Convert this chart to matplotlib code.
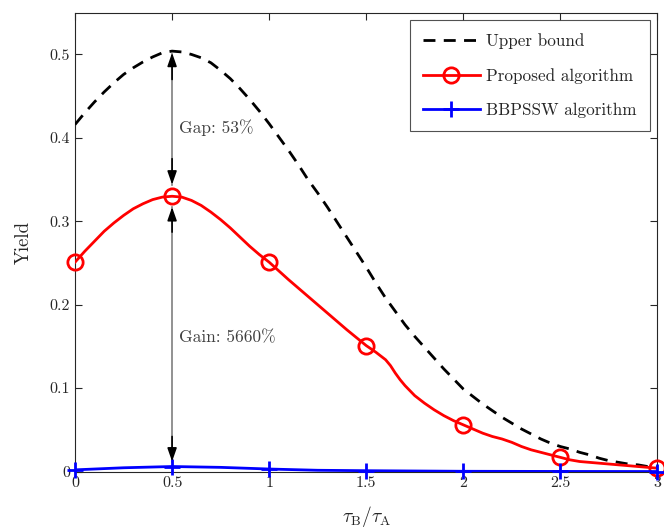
import numpy as np
import matplotlib
matplotlib.use("Agg")
import matplotlib.pyplot as plt

# ---- data ----
x_ub = [0.0, 0.05, 0.1, 0.15, 0.2, 0.25, 0.3, 0.35, 0.4, 0.45, 0.5, 0.55, 0.6, 0.65, 0.7,
        0.75, 0.8, 0.85, 0.9, 0.95, 1.0, 1.05, 1.1, 1.15, 1.2, 1.25, 1.3, 1.35, 1.4, 1.45,
        1.5, 1.55, 1.6, 1.65, 1.7, 1.75, 1.8, 1.85, 1.9, 1.95, 2.0, 2.05, 2.1, 2.15, 2.2,
        2.25, 2.3, 2.35, 2.4, 2.45, 2.5, 2.55, 2.6, 2.65, 2.7, 2.75, 2.8, 2.85, 2.9, 2.95,
        3.0]
y_ub = [0.416, 0.430, 0.443, 0.455, 0.466, 0.476, 0.484, 0.491, 0.497, 0.502, 0.504,
        0.503, 0.500, 0.496, 0.490, 0.481, 0.471, 0.459, 0.446, 0.432, 0.417, 0.401,
        0.385, 0.368, 0.350, 0.334, 0.317, 0.299, 0.281, 0.263, 0.245, 0.226, 0.208,
        0.192, 0.176, 0.162, 0.149, 0.136, 0.123, 0.111, 0.099, 0.090, 0.081, 0.073,
        0.065, 0.058, 0.051, 0.045, 0.039, 0.034, 0.030, 0.027, 0.023, 0.020, 0.016,
        0.013, 0.011, 0.009, 0.008, 0.006, 0.005]

x_prop = [0.0, 0.05, 0.1, 0.15, 0.2, 0.25, 0.3, 0.35, 0.4, 0.45, 0.5, 0.55, 0.6, 0.65,
          0.7, 0.75, 0.8, 0.85, 0.9, 0.95, 1.0, 1.1, 1.2, 1.3, 1.4, 1.5, 1.55, 1.6, 1.625,
          1.65, 1.675, 1.7, 1.75, 1.8, 1.85, 1.9, 1.95, 2.0, 2.05, 2.1, 2.15, 2.2, 2.25,
          2.3, 2.35, 2.4, 2.45, 2.5, 2.55, 2.6, 2.7, 2.8, 2.9, 3.0]
y_prop = [0.251, 0.264, 0.276, 0.288, 0.298, 0.307, 0.315, 0.321, 0.326, 0.329, 0.330,
          0.329, 0.325, 0.319, 0.311, 0.302, 0.292, 0.281, 0.270, 0.260, 0.251, 0.230,
          0.210, 0.190, 0.170, 0.151, 0.143, 0.134, 0.127, 0.118, 0.110, 0.103, 0.091,
          0.082, 0.074, 0.067, 0.061, 0.056, 0.051, 0.046, 0.042, 0.039, 0.035, 0.030,
          0.026, 0.023, 0.020, 0.017, 0.014, 0.012, 0.010, 0.008, 0.006, 0.004]
prop_marker_x = [0.0, 0.5, 1.0, 1.5, 2.0, 2.5, 3.0]

x_bb = [0.0, 0.25, 0.5, 0.75, 1.0, 1.25, 1.5, 2.0, 2.5, 3.0]
y_bb = [0.002, 0.0045, 0.006, 0.005, 0.003, 0.0015, 0.001, 0.0003, 0.0001, 0.0]
bb_marker_x = [0.0, 0.5, 1.0, 1.5, 2.0, 2.5, 3.0]

xticks = [0, 0.5, 1, 1.5, 2, 2.5, 3]
xticklabels = ["0", "0.5", "1", "1.5", "2", "2.5", "3"]
yticks = [0, 0.1, 0.2, 0.3, 0.4, 0.5]
yticklabels = ["0", "0.1", "0.2", "0.3", "0.4", "0.5"]

gap_text = "Gap: 53%"
gain_text = "Gain: 5660%"

# ---- style ----
plt.rcParams['font.family'] = ['cmr10', 'DejaVu Serif']
plt.rcParams['mathtext.fontset'] = 'cm'
plt.rcParams['axes.formatter.use_mathtext'] = True

fig = plt.figure(figsize=(6.64, 5.31), dpi=100)
ax = fig.add_axes([0.113, 0.112, 0.877, 0.864])

ax.plot(x_ub, y_ub, color='black', linestyle=(0, (4.3, 3.0)), linewidth=2,
        label='Upper bound', zorder=3)

mk_p = [x_prop.index(v) for v in prop_marker_x]
ax.plot(x_prop, y_prop, color='red', linewidth=2, zorder=4)
y_prop_mark = [y_prop[i] for i in mk_p]
ax.plot(prop_marker_x, y_prop_mark, color='red', linestyle='none', marker='o',
        markersize=11, markerfacecolor='none', markeredgewidth=2, zorder=4,
        clip_on=False)
ax.plot([], [], color='red', linewidth=2, marker='o', markersize=11,
        markerfacecolor='none', markeredgewidth=2, label='Proposed algorithm')

ax.plot(x_bb, y_bb, color='blue', linewidth=2, zorder=5)
y_bb_mark = np.interp(bb_marker_x, x_bb, y_bb)
ax.plot(bb_marker_x, y_bb_mark, color='blue', linestyle='none', marker='+',
        markersize=12, markeredgewidth=2, zorder=5, clip_on=False)
ax.plot([], [], color='blue', linewidth=2, marker='+', markersize=12,
        markeredgewidth=2, label='BBPSSW algorithm')

# annotations
shaft = '#7f7f7f'
ax.plot([0.5, 0.5], [0.344, 0.500], color=shaft, linewidth=1.2, zorder=2)
ax.plot([0.5, 0.5], [0.012, 0.317], color=shaft, linewidth=1.2, zorder=2)
head = dict(arrowstyle='-|>,head_length=0.8,head_width=0.28', color='black',
            linewidth=1.2, shrinkA=0, shrinkB=0)
for (y0, y1) in [(0.47, 0.502), (0.375, 0.344), (0.287, 0.317), (0.042, 0.012)]:
    ax.annotate('', xy=(0.5, y1), xytext=(0.5, y0), arrowprops=head, zorder=6)

ax.text(0.535, 0.412, gap_text, color='#404040', fontsize=12.5, va='center', ha='left')
ax.text(0.535, 0.161, gain_text, color='#404040', fontsize=12.5, va='center', ha='left')

ax.set_xlim(0, 3)
ax.set_ylim(0, 0.55)
ax.set_xticks(xticks)
ax.set_xticklabels(xticklabels)
ax.set_yticks(yticks)
ax.set_yticklabels(yticklabels)
ax.tick_params(direction='in', top=True, right=True, labelsize=11.5,
               colors='#262626', length=5, width=0.8)
for s in ax.spines.values():
    s.set_color('#262626')
    s.set_linewidth(0.8)

ax.set_xlabel(r'$\tau_\mathrm{B}/\tau_\mathrm{A}$', fontsize=14, color='#262626',
              labelpad=10)
ax.set_ylabel('Yield', fontsize=13.5, color='#262626', labelpad=12)

leg = ax.legend(loc='upper right', fontsize=12.3, frameon=True, fancybox=False,
                edgecolor='#262626', handlelength=3.3, borderpad=0.75,
                labelspacing=1.1, handletextpad=0.4, borderaxespad=0.45)
leg.get_frame().set_linewidth(0.8)
for t in leg.get_texts():
    t.set_color('#262626')

fig.savefig('out.png', dpi=100)
